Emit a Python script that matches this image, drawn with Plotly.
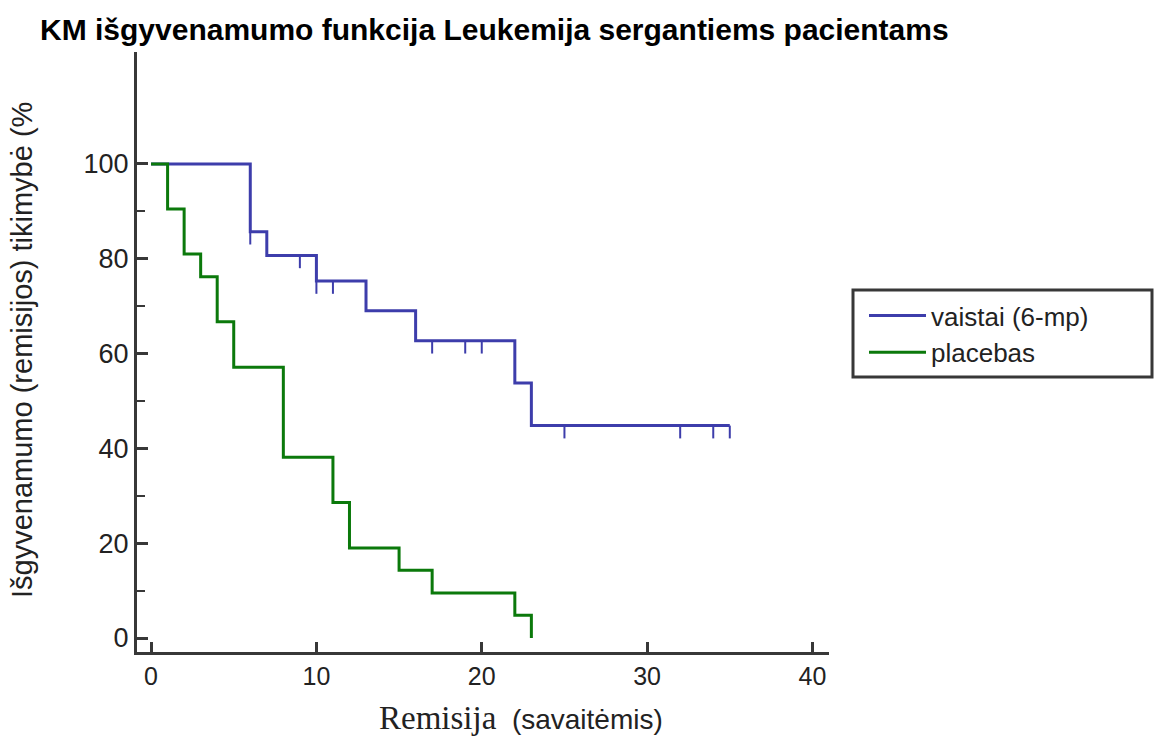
import plotly.graph_objects as go

# Kaplan-Meier step estimates (survival, %) for the leukaemia remission data
drug_times = [0, 6, 7, 10, 13, 16, 22, 23, 35]
drug_surv = [100, 85.7, 80.7, 75.3, 69.0, 62.7, 53.8, 44.8, 44.8]
drug_censored = [6, 9, 10, 11, 17, 19, 20, 25, 32, 34, 35]

placebo_times = [0, 1, 2, 3, 4, 5, 8, 11, 12, 15, 17, 22, 23]
placebo_surv = [100, 90.5, 81.0, 76.2, 66.7, 57.1, 38.1, 28.6, 19.0, 14.3, 9.5, 4.8, 0]

series_names = ["vaistai (6-mp)", "placebas"]
x_ticks = [0, 10, 20, 30, 40]
y_ticks = [0, 20, 40, 60, 80, 100]
y_minor = [10, 30, 50, 70, 90]

BLUE = "#3d3dab"
GREEN = "#0b790b"
AXIS = "#383838"
FONT = "Liberation Sans, Arial, sans-serif"
TEXT = "#222222"
MARK_LEN = 2.7  # length of censoring marks, in % units

# plot area in pixels: x 137..829, y 52..652
PW, PH = 692, 600


def px_x(p):
    return (p - 137) / PW


def px_y(p):
    return (652 - p) / PH


def step_value(times, surv, t):
    val = surv[0]
    for ti, si in zip(times, surv):
        if ti <= t:
            val = si
    return val


def censor_segments(times, surv, cens):
    xs, ys = [], []
    for c in cens:
        s = step_value(times, surv, c)
        xs += [c, c, None]
        ys += [s, s - MARK_LEN, None]
    return xs, ys


fig = go.Figure()

fig.add_trace(go.Scatter(
    x=drug_times, y=drug_surv, mode="lines", line_shape="hv",
    line=dict(color=BLUE, width=3), name=series_names[0]))

cx, cy = censor_segments(drug_times, drug_surv, drug_censored)
fig.add_trace(go.Scatter(
    x=cx, y=cy, mode="lines", line=dict(color=BLUE, width=2),
    showlegend=False, hoverinfo="skip"))

fig.add_trace(go.Scatter(
    x=placebo_times, y=placebo_surv, mode="lines", line_shape="hv",
    line=dict(color=GREEN, width=3), name=series_names[1]))

fig.update_layout(
    width=1155, height=738,
    margin=dict(l=137, r=326, t=52, b=86, pad=0),
    paper_bgcolor="white", plot_bgcolor="white",
    font=dict(family=FONT, color=TEXT),
    title=dict(
        text="<b>KM išgyvenamumo funkcija Leukemija sergantiems pacientams</b>",
        font=dict(family=FONT, size=30, color="#000000"),
        x=40 / 1155, xanchor="left", y=1 - 29 / 738, yanchor="middle"),
    showlegend=True,
    legend=dict(
        x=px_x(864), xanchor="left", y=px_y(292), yanchor="top",
        borderwidth=0, bgcolor="rgba(0,0,0,0)",
        font=dict(family=FONT, size=26, color=TEXT),
        itemwidth=57, tracegroupgap=0,
    ),
    shapes=[dict(
        type="rect", xref="paper", yref="paper",
        x0=px_x(853), x1=px_x(1152), y0=px_y(377), y1=px_y(290),
        line=dict(color=AXIS, width=3), fillcolor="rgba(0,0,0,0)")],
)

fig.update_xaxes(
    range=[-0.85, 41.0], tickvals=x_ticks, ticktext=[str(v) for v in x_ticks],
    showline=True, linecolor=AXIS, linewidth=3,
    ticks="inside", ticklen=10, tickwidth=3, tickcolor=AXIS,
    showgrid=False, zeroline=False,
    tickfont=dict(family=FONT, size=25, color=TEXT),
)
fig.update_yaxes(
    range=[-2.95, 123.6], tickvals=y_ticks, ticktext=[str(v) for v in y_ticks],
    showline=True, linecolor=AXIS, linewidth=3,
    ticks="inside", ticklen=11, tickwidth=3, tickcolor=AXIS,
    minor=dict(tickvals=y_minor, ticks="inside", ticklen=8, tickwidth=2, tickcolor=AXIS),
    showgrid=False, zeroline=False,
    tickfont=dict(family=FONT, size=27, color=TEXT),
)

# Axis titles
fig.add_annotation(
    text="Išgyvenamumo (remisijos) tikimybė (%",
    xref="paper", yref="paper", x=px_x(22), y=px_y(350),
    xanchor="center", yanchor="middle", textangle=-90, showarrow=False,
    font=dict(family=FONT, size=29, color=TEXT))
fig.add_annotation(
    text='<span style="font-family:Liberation Serif, Times New Roman, serif;font-size:33px">Remisija</span>'
         '  <span style="font-size:28px">(savaitėmis)</span>',
    xref="paper", yref="paper", x=px_x(521), y=px_y(718),
    xanchor="center", yanchor="middle", showarrow=False,
    font=dict(family=FONT, size=28, color=TEXT))

fig.write_html("out.html")
